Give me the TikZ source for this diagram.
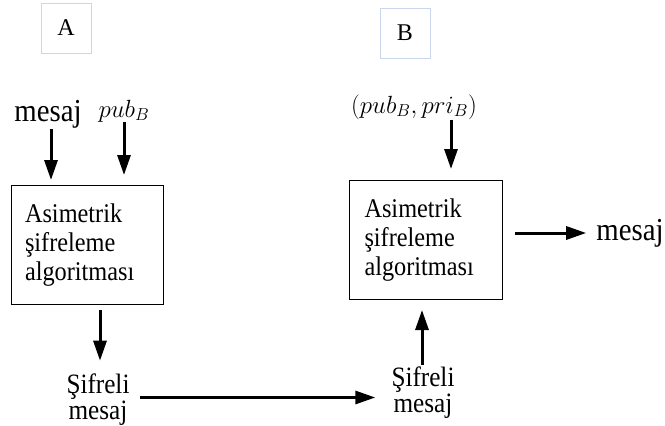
\documentclass[tikz,border=0pt]{standalone}
\usepackage{amsmath}
\usepackage{fontspec}
\setmainfont{Liberation Serif}[FakeStretch=0.9]
\newfontfamily\lblfont{Liberation Serif}
\usetikzlibrary{arrows.meta}
\definecolor{partyedge}{HTML}{C9D6EC}

\begin{document}
\begin{tikzpicture}[x=1pt,y=-1pt,
  arr/.style={line width=3pt,-{Triangle[length=20pt,width=13pt]}},
  algbox/.style={draw,line width=1pt,minimum width=152pt,minimum height=119pt,
    inner xsep=14pt,text width=124pt,align=left,font=\fontsize{27}{29}\selectfont},
  party/.style={draw=partyedge,line width=1pt,minimum size=50pt,
    font=\lblfont\fontsize{24}{24}\selectfont},
  txt/.style={inner sep=0pt,align=center,font=\fontsize{28}{24}\selectfont},
  bigtxt/.style={inner sep=0pt,font=\fontsize{32}{32}\selectfont},
  keytxt/.style={inner sep=0pt,font=\fontsize{25}{25}\selectfont}]
  \useasboundingbox (0,0) rectangle (665,426);

  % the two parties
  \node[party] (partyA) at (66,28) {A};
  \node[party] (partyB) at (405,33) {B};

  % sender side
  \node[bigtxt] (msgA) at (48,114) {mesaj};
  \node[keytxt] (pubA) at (124,111) {$pub_B$};
  \node[algbox] (encA) at (87,245) {Asimetrik\\şifreleme\\algoritması};
  \node[txt] (ciphA) at (98,399.5) {Şifreli\\mesaj};

  % receiver side
  \node[keytxt] (keyB) at (414,107) {$(pub_B, pri_B)$};
  \node[algbox,inner xsep=15pt,text width=123pt] (decB) at (426,240) {Asimetrik\\şifreleme\\algoritması};
  \node[txt] (ciphB) at (423,392.5) {Şifreli\\mesaj};
  \node[bigtxt] (msgB) at (630,233) {mesaj};

  % arrows
  \draw[arr,shorten <=1pt,shorten >=5pt] ([xshift=3pt]msgA.south) -- ([xshift=3pt]msgA.south |- encA.north);
  \draw[arr,shorten >=10pt] (pubA.south) -- (pubA.south |- encA.north);
  \draw[arr,shorten <=5pt,shorten >=13pt] ([xshift=2pt]ciphA.north |- encA.south) -- ([xshift=2pt]ciphA.north);
  \draw[arr,shorten <=10pt,shorten >=16pt] ([yshift=2pt]ciphA.east) -- ([yshift=2pt]ciphA.east -| ciphB.west);
  \draw[arr,shorten <=2pt,shorten >=10pt] ([xshift=-1pt]ciphB.north) -- ([xshift=-1pt]ciphB.north |- decB.south);
  \draw[arr,shorten >=11pt] ([xshift=37pt]keyB.south) -- ([xshift=37pt]keyB.south |- decB.north);
  \draw[arr,shorten <=12pt,shorten >=10pt] (decB.east |- msgB.west) -- (msgB.west);
\end{tikzpicture}
\end{document}
